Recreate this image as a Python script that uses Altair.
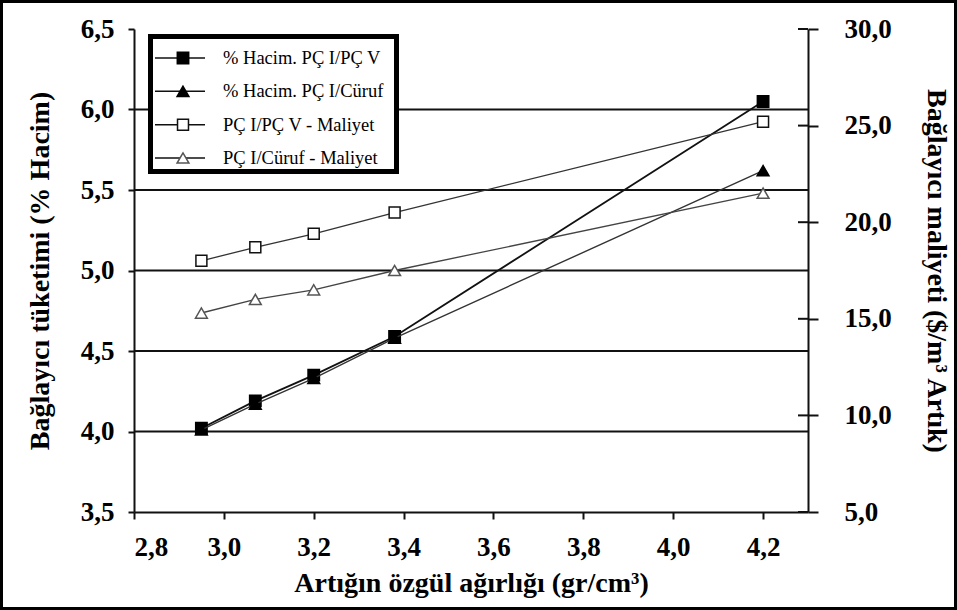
import altair as alt
import pandas as pd

# Specific gravity of the residue (x axis)
x_vals = [2.95, 3.07, 3.20, 3.38, 4.20]

# Binder consumption (% by volume) - left axis
hacim_pcv = [4.02, 4.19, 4.35, 4.59, 6.05]
hacim_curuf = [4.01, 4.17, 4.33, 4.58, 5.62]

# Binder cost ($/m3 residue) - right axis
maliyet_pcv = [18.0, 18.7, 19.4, 20.5, 25.2]
maliyet_curuf = [15.3, 16.0, 16.5, 17.5, 21.5]

series_names = [
    "% Hacim. PÇ I/PÇ V",
    "% Hacim. PÇ I/Cüruf",
    "PÇ I/PÇ V - Maliyet",
    "PÇ I/Cüruf - Maliyet",
]

x_ticks = [2.8, 3.0, 3.2, 3.4, 3.6, 3.8, 4.0, 4.2]
left_ticks = [3.5, 4.0, 4.5, 5.0, 5.5, 6.0, 6.5]
right_ticks = [5.0, 10.0, 15.0, 20.0, 25.0, 30.0]
grid_vals = [4.0, 4.5, 5.0, 5.5, 6.0]

W, H = 674, 483
FONT = "Liberation Serif"
comma = "replace(format(datum.value, '.1f'), '.', ',')"

styles = {
    series_names[0]: dict(shape="square", filled=True, line="#111", lw=1.8, stroke="#000", size=130),
    series_names[1]: dict(shape="triangle-up", filled=True, line="#333", lw=1.4, stroke="#000", size=140),
    series_names[2]: dict(shape="square", filled=False, line="#333", lw=1.3, stroke="#111", size=120),
    series_names[3]: dict(shape="triangle-up", filled=False, line="#444", lw=1.3, stroke="#555", size=140),
}

def frame(name, values):
    return pd.DataFrame({"x": x_vals, "y": values, "series": name})

x_enc = alt.X(
    "x:Q",
    scale=alt.Scale(domain=[2.8, 4.3], nice=False, zero=False),
    axis=alt.Axis(
        values=x_ticks, labelExpr=comma, title="Artığın özgül ağırlığı (gr/cm³)",
        grid=False, tickSize=7, tickWidth=2, tickColor="#111", domainWidth=2,
        domainColor="#111", labelPadding=15, titlePadding=9, labelFlush=True,
    ),
)

def y_left(field="y:Q"):
    return alt.Y(
        field,
        scale=alt.Scale(domain=[3.5, 6.5], nice=False, zero=False),
        axis=alt.Axis(
            values=left_ticks, labelExpr=comma, title="Bağlayıcı tüketimi (% Hacim)",
            grid=False, tickSize=6, tickWidth=2, tickColor="#111", domainWidth=2,
            domainColor="#111", labelPadding=14, titlePadding=26, labelFlush=False,
        ),
    )

def y_right(field="y:Q"):
    return alt.Y(
        field,
        scale=alt.Scale(domain=[5, 30], nice=False, zero=False),
        axis=alt.Axis(
            orient="right", values=right_ticks, labelExpr=comma,
            title="Bağlayıcı maliyeti ($/m³ Artık)",
            grid=False, tickSize=10, tickWidth=2, tickColor="#111", domainWidth=2,
            domainColor="#111", labelPadding=26, titlePadding=30, labelFlush=False,
        ),
    )

def series_layers(df, name, yfun):
    st = styles[name]
    line = alt.Chart(df).mark_line(color=st["line"], strokeWidth=st["lw"]).encode(x=x_enc, y=yfun())
    pts = alt.Chart(df).mark_point(
        shape=st["shape"], filled=True, size=st["size"],
        fill=st["stroke"] if st["filled"] else "white",
        stroke=st["stroke"], strokeWidth=1.5, opacity=1,
    ).encode(x=x_enc, y=yfun())
    return [line, pts]

# Horizontal reference lines on the left scale
grid = alt.Chart(pd.DataFrame({"v": grid_vals})).mark_rule(
    color="#111", strokeWidth=2
).encode(x=alt.value(0), x2=alt.value(W), y=y_left("v:Q"))

left = alt.layer(
    grid,
    *series_layers(frame(series_names[0], hacim_pcv), series_names[0], y_left),
    *series_layers(frame(series_names[1], hacim_curuf), series_names[1], y_left),
)

# Inner halves of the right axis ticks
right_inner = alt.Chart(pd.DataFrame({"v": right_ticks})).mark_rule(
    color="#111", strokeWidth=2
).encode(x=alt.value(W - 10), x2=alt.value(W), y=y_right("v:Q"))

right = alt.layer(
    *series_layers(frame(series_names[3], maliyet_curuf), series_names[3], y_right),
    *series_layers(frame(series_names[2], maliyet_pcv), series_names[2], y_right),
    right_inner,
)

# Boxed legend
leg_df = pd.DataFrame({"series": series_names})
leg_y = alt.Y("series:N", scale=alt.Scale(type="point", domain=series_names, range=[29, 129], padding=0), axis=None)

leg_box = alt.Chart(pd.DataFrame({"a": [0]})).mark_rect(
    fill="white", stroke="black", strokeWidth=5
).encode(x=alt.value(16.5), x2=alt.value(262.5), y=alt.value(7.5), y2=alt.value(142.5))

leg_layers = [leg_box]
for name in series_names:
    st = styles[name]
    d = leg_df[leg_df.series == name]
    leg_layers.append(
        alt.Chart(d).mark_rule(color="#111", strokeWidth=1.5).encode(
            x=alt.value(21), x2=alt.value(71), y=leg_y)
    )
    leg_layers.append(
        alt.Chart(d).mark_point(
            shape=st["shape"], filled=True, size=st["size"],
            fill=st["stroke"] if st["filled"] else "white",
            stroke=st["stroke"], strokeWidth=1.5, opacity=1,
        ).encode(x=alt.value(49), y=leg_y)
    )
leg_layers.append(
    alt.Chart(leg_df).mark_text(
        align="left", baseline="middle", font=FONT, fontSize=18.5, color="black"
    ).encode(x=alt.value(89), y=leg_y, text="series:N")
)
legend = alt.layer(*leg_layers)

# Outer border around the whole figure
border = alt.Chart(pd.DataFrame({"a": [0]})).mark_rect(
    fill=None, stroke="black", strokeWidth=3
).encode(x=alt.value(-132.5), x2=alt.value(821.5), y=alt.value(-27.5), y2=alt.value(579.5))

chart = alt.layer(left, right, legend, border).resolve_scale(
    y="independent"
).properties(
    width=W, height=H,
    autosize=alt.AutoSizeParams(type="none"),
    padding={"left": 134, "top": 29, "right": 149, "bottom": 98},
    background="white",
).configure_view(stroke=None).configure_axis(
    labelFont=FONT, labelFontSize=27, labelFontWeight="bold", labelColor="black",
    titleFont=FONT, titleFontSize=28, titleFontWeight="bold", titleColor="black",
)

chart.save("out.html", embed_options={"renderer": "svg", "actions": False})
